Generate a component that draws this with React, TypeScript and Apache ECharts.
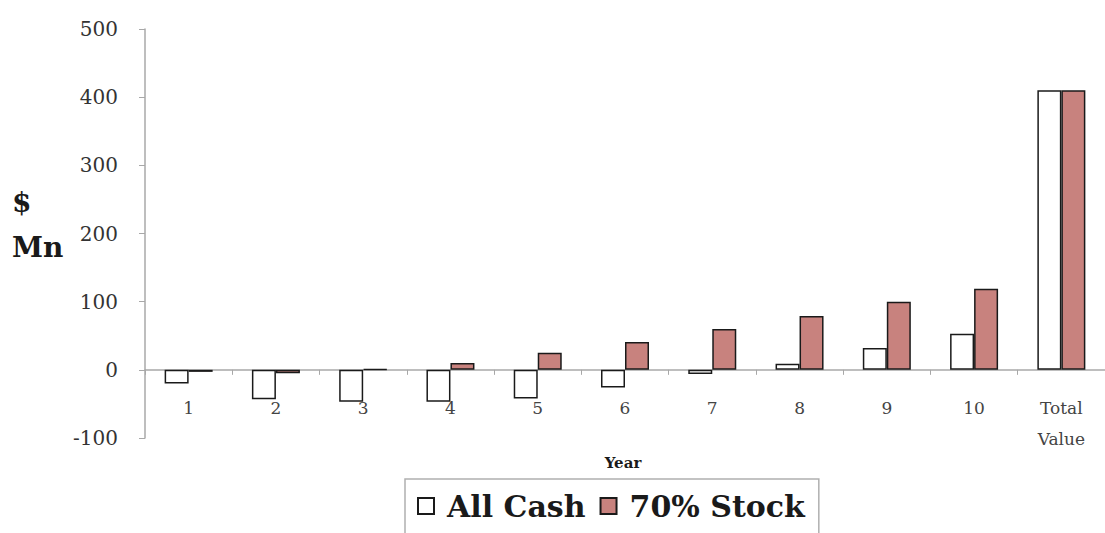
import React, { useEffect, useRef } from "react";
import * as echarts from "echarts";

const categories = ["1", "2", "3", "4", "5", "6", "7", "8", "9", "10", "Total\nValue"];
const allCash = [-20, -43, -47, -47, -42, -26, -6, 9, 32, 53, 410];
const stock70 = [-3, -5, 1, 10, 25, 41, 60, 79, 100, 119, 410];
const yTicks = { min: -100, max: 500, interval: 100 };

const SERIF = "'DejaVu Serif', 'Liberation Serif', serif";

export default function App() {
  const ref = useRef<HTMLDivElement>(null);
  useEffect(() => {
    if (!ref.current) return;
    const chart = echarts.init(ref.current, null, { renderer: "svg" });
    chart.setOption({
      animation: false,
      backgroundColor: "#ffffff",
      grid: { left: 145, top: 29, bottom: 95, right: -10, containLabel: false },
      xAxis: {
        type: "category",
        data: categories,
        axisLine: { onZero: true, lineStyle: { color: "#a8a8a8", width: 1.5 } },
        axisTick: { show: true, length: 5, inside: false, lineStyle: { color: "#a8a8a8" } },
        axisLabel: {
          margin: -46,
          color: "#444",
          fontFamily: SERIF,
          fontSize: 17,
          lineHeight: 31,
          verticalAlign: "top",
        },
        splitLine: { show: false },
      },
      yAxis: {
        type: "value",
        min: yTicks.min,
        max: yTicks.max,
        interval: yTicks.interval,
        axisLine: { show: true, lineStyle: { color: "#a8a8a8", width: 1.5 } },
        axisTick: { show: true, length: 6, lineStyle: { color: "#a8a8a8" } },
        axisLabel: { margin: 27, color: "#333", fontFamily: SERIF, fontSize: 20 },
        splitLine: { show: false },
      },
      legend: {
        left: 405,
        top: 479,
        orient: "horizontal",
        padding: [12, 14, 14, 12],
        borderColor: "#b0b0b0",
        borderWidth: 1.5,
        itemWidth: 16,
        itemHeight: 16,
        itemGap: 14,
        icon: "rect",
        textStyle: { fontFamily: SERIF, fontSize: 30, fontWeight: "bold", color: "#1a1a1a", padding: [0, 0, 0, 8] },
        data: ["All Cash", "70% Stock"],
      },
      graphic: [
        {
          type: "text",
          left: 12,
          top: 180,
          style: {
            text: "$\nMn",
            font: `bold 28px ${SERIF}`,
            lineHeight: 45,
            fill: "#1a1a1a",
          },
        },
        {
          type: "text",
          x: 623,
          y: 463,
          style: {
            text: "Year",
            font: `bold 15px ${SERIF}`,
            fill: "#1a1a1a",
            align: "center",
            verticalAlign: "middle",
          },
        },
      ],
      series: [
        {
          name: "All Cash",
          type: "bar",
          data: allCash,
          barWidth: 24,
          barGap: "0%",
          itemStyle: { color: "#ffffff", borderColor: "#1a1a1a", borderWidth: 1.5 },
        },
        {
          name: "70% Stock",
          type: "bar",
          data: stock70,
          barWidth: 24,
          barGap: "0%",
          itemStyle: { color: "#C8827E", borderColor: "#1a1a1a", borderWidth: 1.5 },
        },
      ],
    });
    return () => chart.dispose();
  }, []);
  return <div ref={ref} style={{ width: 1105, height: 533, position: "fixed", left: 0, top: 0 }} />;
}
